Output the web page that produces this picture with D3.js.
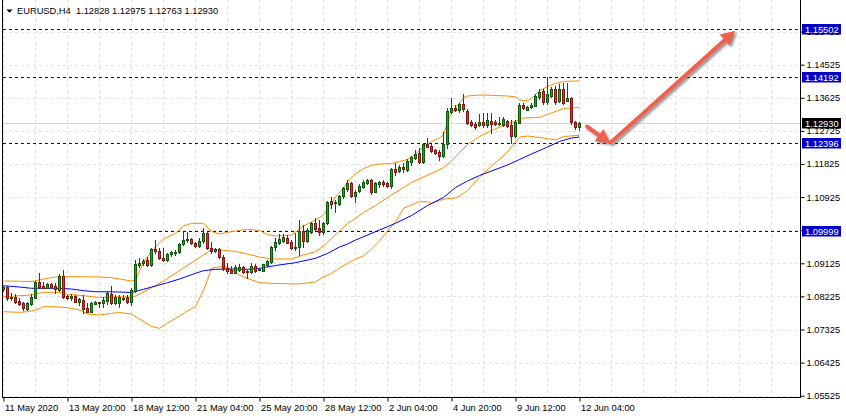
<!DOCTYPE html>
<html lang="en">
<head>
    <meta charset="UTF-8">
    <meta name="viewport" content="width=device-width, initial-scale=1.0">
    <script type="text/javascript" src="https://d3js.org/d3.v7.min.js"></script>
    <title>EURUSD,H4</title>
    <style>
        body { margin: 0; background: #fff; }
        svg { display: block; font-family: "Liberation Sans", Arial, sans-serif; }
    </style>
    <script>
        const width = 846;
        const height = 419;
        const symbol = "EURUSD,H4";

        // H4 bars, 11 May 2020 04:00 .. 12 Jun 2020 04:00
        const opens = [
            1.08426, 1.08473, 1.08173, 1.08201, 1.08100, 1.08037, 1.07882, 1.08018, 1.08190, 1.08608,
            1.08516, 1.08453, 1.08554, 1.08508, 1.08399, 1.08780, 1.08236, 1.08173, 1.08236, 1.08081,
            1.08127, 1.07918, 1.07809, 1.08026, 1.08064, 1.08037, 1.08100, 1.08282, 1.08037, 1.08054,
            1.08154, 1.08217, 1.08081, 1.08380, 1.09079, 1.09125, 1.09215, 1.09079, 1.09505, 1.09468,
            1.09261, 1.09215, 1.09370, 1.09424, 1.09441, 1.09641, 1.09758, 1.09777, 1.09668, 1.09603,
            1.09739, 1.09957, 1.09540, 1.09460, 1.09505, 1.09288, 1.08989, 1.08943, 1.08870, 1.08943,
            1.09016, 1.08924, 1.08880, 1.09052, 1.08943, 1.08924, 1.09079, 1.09169, 1.09576, 1.09685,
            1.09739, 1.09821, 1.09712, 1.09549, 1.09560, 1.10011, 1.09739, 1.09984, 1.10229, 1.10076,
            1.09984, 1.10212, 1.10819, 1.10792, 1.10737, 1.10955, 1.11154, 1.11300, 1.10964, 1.11091,
            1.11208, 1.11300, 1.11390, 1.11072, 1.11273, 1.11327, 1.11300, 1.11235, 1.11689, 1.11635,
            1.11752, 1.11662, 1.11888, 1.11997, 1.12116, 1.11871, 1.12360, 1.12323, 1.12206, 1.12160,
            1.12051, 1.12360, 1.13247, 1.13356, 1.13293, 1.13456, 1.13274, 1.12975, 1.12912, 1.12885,
            1.12975, 1.12885, 1.13002, 1.12975, 1.12920, 1.12885, 1.13002, 1.12885, 1.12586, 1.12948,
            1.13429, 1.13301, 1.13366, 1.13410, 1.13638, 1.13818, 1.13502, 1.13682, 1.13864, 1.13546,
            1.13864, 1.13538, 1.13620, 1.12975, 1.12828
        ];
        const highs = [
            1.08508, 1.08508, 1.08309, 1.08282, 1.08173, 1.08081, 1.08081, 1.08282, 1.08644, 1.08853,
            1.08625, 1.08581, 1.08581, 1.08581, 1.08826, 1.08943, 1.08263, 1.08282, 1.08263, 1.08190,
            1.08263, 1.08037, 1.08064, 1.08100, 1.08073, 1.08217, 1.08372, 1.08516, 1.08263, 1.08263,
            1.08263, 1.08263, 1.08445, 1.09215, 1.09261, 1.09234, 1.09305, 1.09532, 1.09758, 1.09532,
            1.09532, 1.09397, 1.09468, 1.09487, 1.09685, 1.09984, 1.09984, 1.09804, 1.09712, 1.09804,
            1.10076, 1.09984, 1.09712, 1.09532, 1.09532, 1.09351, 1.09142, 1.09052, 1.09079, 1.09106,
            1.09052, 1.08943, 1.09142, 1.09106, 1.08998, 1.09106, 1.09215, 1.09595, 1.09804, 1.09921,
            1.09921, 1.09894, 1.09758, 1.09940, 1.10302, 1.10166, 1.10076, 1.10256, 1.10348, 1.10302,
            1.10256, 1.10819, 1.10920, 1.10846, 1.10982, 1.11208, 1.11390, 1.11344, 1.11118, 1.11273,
            1.11390, 1.11417, 1.11417, 1.11344, 1.11363, 1.11390, 1.11344, 1.11708, 1.11844, 1.11798,
            1.11844, 1.11961, 1.12051, 1.12206, 1.12251, 1.12387, 1.12540, 1.12360, 1.12233, 1.12206,
            1.12703, 1.13339, 1.13628, 1.13429, 1.13475, 1.13728, 1.13312, 1.13021, 1.12975, 1.13184,
            1.13220, 1.13202, 1.13202, 1.13021, 1.13111, 1.13111, 1.13021, 1.13021, 1.13021, 1.13475,
            1.13475, 1.13402, 1.13475, 1.13728, 1.13864, 1.13864, 1.14199, 1.13910, 1.13954, 1.14000,
            1.14019, 1.14019, 1.13638, 1.13002, 1.12975
        ];
        const lows = [
            1.08385, 1.08127, 1.08127, 1.08037, 1.07991, 1.07855, 1.07855, 1.07991, 1.08173, 1.08445,
            1.08445, 1.08445, 1.08462, 1.08309, 1.08372, 1.08190, 1.08146, 1.08127, 1.08064, 1.07991,
            1.07765, 1.07792, 1.07792, 1.08010, 1.07945, 1.07945, 1.08010, 1.08010, 1.08010, 1.07945,
            1.08127, 1.08037, 1.07991, 1.08353, 1.09033, 1.09079, 1.09052, 1.09060, 1.09397, 1.09234,
            1.09188, 1.09188, 1.09332, 1.09351, 1.09397, 1.09622, 1.09712, 1.09641, 1.09576, 1.09576,
            1.09685, 1.09505, 1.09414, 1.09441, 1.09261, 1.08943, 1.08853, 1.08853, 1.08853, 1.08916,
            1.08870, 1.08717, 1.08870, 1.08897, 1.08935, 1.08916, 1.09060, 1.09142, 1.09487, 1.09649,
            1.09712, 1.09668, 1.09505, 1.09487, 1.09351, 1.09560, 1.09712, 1.09940, 1.10030, 1.09894,
            1.09921, 1.10193, 1.10620, 1.10528, 1.10710, 1.10892, 1.11104, 1.10937, 1.10800, 1.11072,
            1.11181, 1.11273, 1.11001, 1.11055, 1.11208, 1.11235, 1.11208, 1.11164, 1.11526, 1.11599,
            1.11599, 1.11635, 1.11798, 1.11961, 1.11844, 1.11844, 1.12274, 1.12160, 1.12089, 1.11934,
            1.12024, 1.12251, 1.13202, 1.13266, 1.13247, 1.13279, 1.12912, 1.12858, 1.12770, 1.12858,
            1.12839, 1.12839, 1.12659, 1.12885, 1.12885, 1.12858, 1.12839, 1.12404, 1.12567, 1.12931,
            1.13320, 1.13285, 1.13339, 1.13394, 1.13592, 1.13456, 1.13456, 1.13638, 1.13456, 1.13502,
            1.13456, 1.13525, 1.12912, 1.12776, 1.12763
        ];
        const closes = [
            1.08467, 1.08173, 1.08217, 1.08081, 1.08026, 1.07918, 1.08037, 1.08217, 1.08608, 1.08481,
            1.08462, 1.08562, 1.08489, 1.08418, 1.08788, 1.08217, 1.08173, 1.08244, 1.08081, 1.08146,
            1.07882, 1.07809, 1.08037, 1.08081, 1.08045, 1.08127, 1.08309, 1.08037, 1.08217, 1.08201,
            1.08190, 1.08081, 1.08399, 1.09098, 1.09142, 1.09188, 1.09079, 1.09505, 1.09468, 1.09261,
            1.09215, 1.09378, 1.09424, 1.09441, 1.09649, 1.09758, 1.09777, 1.09668, 1.09603, 1.09739,
            1.09957, 1.09532, 1.09460, 1.09505, 1.09288, 1.08989, 1.08924, 1.08870, 1.09016, 1.09025,
            1.08897, 1.08880, 1.09052, 1.08924, 1.08978, 1.09098, 1.09196, 1.09560, 1.09712, 1.09777,
            1.09831, 1.09685, 1.09532, 1.09560, 1.10011, 1.09739, 1.10030, 1.10229, 1.10049, 1.09984,
            1.10212, 1.10800, 1.10737, 1.10800, 1.10955, 1.11164, 1.11308, 1.10964, 1.11072, 1.11235,
            1.11344, 1.11390, 1.11072, 1.11300, 1.11344, 1.11273, 1.11235, 1.11689, 1.11599, 1.11752,
            1.11689, 1.11907, 1.12024, 1.12089, 1.11871, 1.12360, 1.12295, 1.12179, 1.12116, 1.12051,
            1.12360, 1.13266, 1.13356, 1.13293, 1.13448, 1.13307, 1.12931, 1.12885, 1.12839, 1.12975,
            1.12885, 1.13021, 1.12912, 1.12912, 1.12931, 1.13040, 1.12858, 1.12586, 1.12975, 1.13429,
            1.13347, 1.13383, 1.13429, 1.13682, 1.13774, 1.13502, 1.13728, 1.13864, 1.13502, 1.13864,
            1.13484, 1.13620, 1.12958, 1.12823, 1.12930
        ];

        // time axis: bar index of each label and its text
        const timeLabelBars = [0, 16, 32, 48, 64, 80, 96, 112, 128, 144];
        const timeLabels = ["11 May 2020", "13 May 20:00", "18 May 12:00", "21 May 04:00", "25 May 20:00",
                            "28 May 12:00", "2 Jun 04:00", "4 Jun 20:00", "9 Jun 12:00", "12 Jun 04:00"];

        const priceTicks = [1.05525, 1.06425, 1.07325, 1.08225, 1.09125, 1.10025,
                            1.10925, 1.11825, 1.12725, 1.13625, 1.14525, 1.15425];

        // horizontal levels drawn on the chart
        const levels = [1.15502, 1.14192, 1.12396, 1.09999];

        // Bollinger bands and moving average, [bar index, value]
        const bbUpper = [
            [0, 1.08644], [7, 1.08630], [10, 1.08698], [13, 1.08753], [18, 1.08761], [24, 1.08753],
            [27, 1.08734], [29, 1.08698], [32, 1.08644], [33, 1.08671], [35, 1.09161], [38, 1.09576],
            [40, 1.09785], [43, 1.09940], [45, 1.10139], [47, 1.10212], [50, 1.10212], [52, 1.09989],
            [54, 1.09921], [56, 1.09967], [58, 1.10003], [61, 1.10049], [64, 1.10016], [66, 1.09908],
            [68, 1.09867], [72, 1.09894], [73, 1.09984], [75, 1.10139], [78, 1.10302], [80, 1.10438],
            [82, 1.10756], [83, 1.10928], [85, 1.11172], [86, 1.11349], [88, 1.11553], [90, 1.11703],
            [92, 1.11790], [94, 1.11825], [97, 1.11839], [99, 1.11893], [101, 1.11947], [103, 1.12097],
            [105, 1.12287], [107, 1.12437], [109, 1.12532], [110, 1.12613], [111, 1.12967], [112, 1.13203],
            [113, 1.13348], [114, 1.13484], [115, 1.13620], [116, 1.13674], [119, 1.13701], [122, 1.13693],
            [126, 1.13674], [128, 1.13647], [129, 1.13565], [131, 1.13546], [132, 1.13611], [134, 1.13810],
            [136, 1.13932], [138, 1.14014], [140, 1.14068], [144, 1.14087]
        ];
        const bbMiddle = [
            [0, 1.08217], [7, 1.08263], [10, 1.08336], [14, 1.08336], [16, 1.08282], [20, 1.08244],
            [24, 1.08195], [29, 1.08217], [32, 1.08201], [33, 1.08236], [36, 1.08399], [40, 1.08644],
            [45, 1.08997], [50, 1.09351], [52, 1.09500], [56, 1.09473], [58, 1.09446], [61, 1.09378],
            [64, 1.09296], [67, 1.09242], [72, 1.09242], [75, 1.09351], [78, 1.09441], [80, 1.09595],
            [82, 1.09799], [84, 1.10003], [86, 1.10207], [88, 1.10348], [90, 1.10506], [93, 1.10696],
            [96, 1.10914], [99, 1.11118], [102, 1.11322], [105, 1.11472], [108, 1.11616], [110, 1.11730],
            [112, 1.11907], [114, 1.12138], [116, 1.12355], [119, 1.12573], [122, 1.12735], [125, 1.12871],
            [128, 1.12994], [130, 1.13075], [134, 1.13094], [137, 1.13211], [140, 1.13334], [144, 1.13361]
        ];
        const bbLower = [
            [0, 1.07809], [4, 1.07792], [6, 1.07809], [8, 1.07855], [10, 1.07945], [13, 1.07945],
            [16, 1.07918], [19, 1.07855], [21, 1.07746], [24, 1.07719], [27, 1.07765], [29, 1.07787],
            [32, 1.07746], [34, 1.07610], [37, 1.07406], [39, 1.07357], [41, 1.07501], [44, 1.07692],
            [47, 1.07896], [48, 1.07945], [50, 1.08399], [51, 1.08671], [52, 1.08989], [54, 1.09033],
            [56, 1.09025], [57, 1.08957], [59, 1.08807], [61, 1.08717], [64, 1.08598], [67, 1.08581],
            [73, 1.08562], [75, 1.08576], [78, 1.08625], [80, 1.08753], [82, 1.08853], [84, 1.08998],
            [86, 1.09120], [88, 1.09242], [90, 1.09324], [92, 1.09514], [94, 1.09731], [96, 1.10003],
            [98, 1.10256], [100, 1.10620], [102, 1.10710], [104, 1.10800], [106, 1.10800], [107, 1.10756],
            [109, 1.10832], [111, 1.10887], [113, 1.10900], [114, 1.10955], [116, 1.11104], [119, 1.11471],
            [122, 1.11771], [125, 1.12042], [127, 1.12287], [129, 1.12559], [131, 1.12586], [135, 1.12532],
            [138, 1.12477], [140, 1.12573], [144, 1.12605]
        ];
        const maLine = [
            [0, 1.08516], [4, 1.08481], [7, 1.08445], [14, 1.08445], [17, 1.08426], [20, 1.08380],
            [23, 1.08353], [29, 1.08345], [32, 1.08331], [35, 1.08418], [38, 1.08508], [41, 1.08598],
            [44, 1.08698], [48, 1.08853], [50, 1.08924], [53, 1.08962], [58, 1.08970], [61, 1.08962],
            [64, 1.08989], [68, 1.09065], [73, 1.09142], [78, 1.09261], [81, 1.09392], [84, 1.09568],
            [86, 1.09649], [88, 1.09758], [94, 1.10030], [98, 1.10212], [102, 1.10424], [106, 1.10696],
            [110, 1.10914], [113, 1.11186], [116, 1.11363], [119, 1.11512], [126, 1.11798], [129, 1.11948],
            [132, 1.12097], [136, 1.12287], [139, 1.12437], [142, 1.12532], [144, 1.12559]
        ];

        // hand-drawn forecast arrows, [bar index, price] from -> to
        const arrowPaths = [
            [[145.9, 1.12839], [151.7, 1.12387]],
            [[151.9, 1.12420], [182.9, 1.15449]]
        ];
    </script>
</head>
<body>
    <script type="text/javascript">
        const fmt = d3.format(".5f");
        const lastBar = opens.length - 1;
        const lastClose = closes[lastBar];

        const x = d3.scaleLinear().domain([0, 199]).range([3.5, 799.5]);
        const y = d3.scaleLinear().domain([1.05525, 1.14525]).range([395.7, 64.7]);
        const py = v => Math.round(y(v)) + 0.5;

        const svg = d3.select("body").append("svg")
            .attr("width", width)
            .attr("height", height);

        const defs = svg.append("defs");
        defs.append("clipPath").attr("id", "plot")
            .append("rect").attr("x", 3).attr("y", 0).attr("width", 797).attr("height", 397);
        defs.append("filter").attr("id", "shadow")
            .attr("x", "-20%").attr("y", "-20%").attr("width", "140%").attr("height", "140%")
            .append("feDropShadow")
            .attr("dx", 2).attr("dy", 2).attr("stdDeviation", 1.2)
            .attr("flood-color", "#555").attr("flood-opacity", 0.6);

        const plot = svg.append("g").attr("clip-path", "url(#plot)");

        // grid
        plot.append("g").selectAll("line")
            .data(priceTicks)
            .join("line")
            .attr("x1", 3).attr("x2", 800)
            .attr("y1", d => py(d)).attr("y2", d => py(d))
            .attr("stroke", "#e0e0ee")
            .attr("stroke-dasharray", "3,3");
        plot.append("g").selectAll("line")
            .data(d3.range(0, 200, 8))
            .join("line")
            .attr("x1", d => x(d)).attr("x2", d => x(d))
            .attr("y1", 0).attr("y2", 397)
            .attr("stroke", "#e0e0ee")
            .attr("stroke-dasharray", "3,3");

        // horizontal levels and current price line
        plot.append("g").selectAll("line")
            .data(levels)
            .join("line")
            .attr("x1", 3).attr("x2", 800)
            .attr("y1", d => py(d)).attr("y2", d => py(d))
            .attr("stroke", "#0000b0")
            .attr("stroke-dasharray", "3,3");
        plot.append("line")
            .attr("x1", 3).attr("x2", 800)
            .attr("y1", py(lastClose)).attr("y2", py(lastClose))
            .attr("stroke", "#d4d4ec");

        // indicators
        const line = d3.line().x(d => x(d[0])).y(d => y(d[1]));
        [[bbUpper, "#ff8c00"], [bbMiddle, "#ff8c00"], [bbLower, "#ff8c00"], [maLine, "#0000ff"]]
            .forEach(([data, color]) => {
                plot.append("path")
                    .datum(data)
                    .attr("d", line)
                    .attr("fill", "none")
                    .attr("stroke", color)
                    .attr("stroke-width", 1);
            });

        // candles
        const bars = d3.range(opens.length);
        const isUp = i => closes[i] >= opens[i];
        const candles = plot.append("g").attr("shape-rendering", "crispEdges");
        candles.selectAll("line")
            .data(bars)
            .join("line")
            .attr("x1", i => x(i)).attr("x2", i => x(i))
            .attr("y1", i => Math.round(y(highs[i])))
            .attr("y2", i => Math.round(y(lows[i])) + 1)
            .attr("stroke", i => isUp(i) ? "#0b5a0b" : "#8c1212");
        candles.selectAll("rect")
            .data(bars)
            .join("rect")
            .attr("x", i => x(i) - 1)
            .attr("y", i => py(Math.max(opens[i], closes[i])))
            .attr("width", 2)
            .attr("height", i => Math.max(1, py(Math.min(opens[i], closes[i])) - py(Math.max(opens[i], closes[i]))))
            .attr("fill", i => isUp(i) ? "#22a322" : "#dc2f2f")
            .attr("stroke", i => isUp(i) ? "#0b5a0b" : "#8c1212");

        // arrows
        const arrowG = plot.append("g").attr("filter", "url(#shadow)");
        arrowPaths.forEach(([p0, p1]) => {
            const x0 = x(p0[0]), y0 = y(p0[1]), x1 = x(p1[0]), y1 = y(p1[1]);
            const len = Math.hypot(x1 - x0, y1 - y0);
            const ux = (x1 - x0) / len, uy = (y1 - y0) / len;
            const headLen = 14, headW = 7.5;
            const bx = x1 - ux * headLen, by = y1 - uy * headLen;
            arrowG.append("line")
                .attr("x1", x0).attr("y1", y0)
                .attr("x2", bx + ux * 2).attr("y2", by + uy * 2)
                .attr("stroke", "#f0614f")
                .attr("stroke-width", 4)
                .attr("stroke-linecap", "round");
            arrowG.append("polygon")
                .attr("points", [[x1, y1], [bx - uy * headW, by + ux * headW], [bx + uy * headW, by - ux * headW]].join(" "))
                .attr("fill", "#f0614f");
        });

        // frame
        svg.append("path")
            .attr("d", "M2.5,0V397.5H800.5V0")
            .attr("fill", "none")
            .attr("stroke", "#000")
            .attr("shape-rendering", "crispEdges");

        // price axis
        svg.append("g")
            .attr("transform", "translate(800.5,0)")
            .call(d3.axisRight(y).tickValues(priceTicks).tickSize(4).tickPadding(2).tickFormat(fmt))
            .call(g => g.select(".domain").remove())
            .call(g => g.selectAll("text").attr("font-size", "9.3px").attr("font-family", "Liberation Sans").attr("fill", "#000"))
            .call(g => g.selectAll("line").attr("stroke", "#000"));

        // time axis
        svg.append("g")
            .attr("transform", "translate(0,397.5)")
            .call(d3.axisBottom(x).tickValues(timeLabelBars).tickSize(4).tickFormat((d, i) => timeLabels[i]))
            .call(g => g.select(".domain").remove())
            .call(g => g.selectAll("line").attr("stroke", "#000"))
            .call(g => g.selectAll("text")
                .attr("text-anchor", "start")
                .attr("x", 1).attr("y", 13).attr("dy", 0)
                .attr("font-size", "9.3px").attr("font-family", "Liberation Sans").attr("fill", "#000"));

        // price boxes on the axis
        const boxes = levels.map(v => ({ v, fill: "#0000c8" })).concat([{ v: lastClose, fill: "#000" }]);
        const boxG = svg.append("g").selectAll("g")
            .data(boxes)
            .join("g")
            .attr("transform", d => `translate(802,${Math.round(y(d.v))})`);
        boxG.append("rect")
            .attr("x", 0).attr("y", -5)
            .attr("width", 39).attr("height", 10.5)
            .attr("fill", d => d.fill);
        boxG.append("text")
            .attr("x", 3).attr("y", 0.5).attr("dy", "0.34em")
            .attr("font-size", "9.3px")
            .attr("fill", "#fff")
            .text(d => fmt(d.v));

        // title
        svg.append("path").attr("d", "M6.5,9.5H12.5L9.5,12.8Z").attr("fill", "#000");
        svg.append("text")
            .attr("x", 17).attr("y", 13.5)
            .attr("font-size", "9.3px")
            .attr("fill", "#000")
            .style("white-space", "pre")
            .text(`${symbol}  ${fmt(opens[lastBar])} ${fmt(highs[lastBar])} ${fmt(lows[lastBar])} ${fmt(lastClose)}`);
    </script>
</body>
</html>
